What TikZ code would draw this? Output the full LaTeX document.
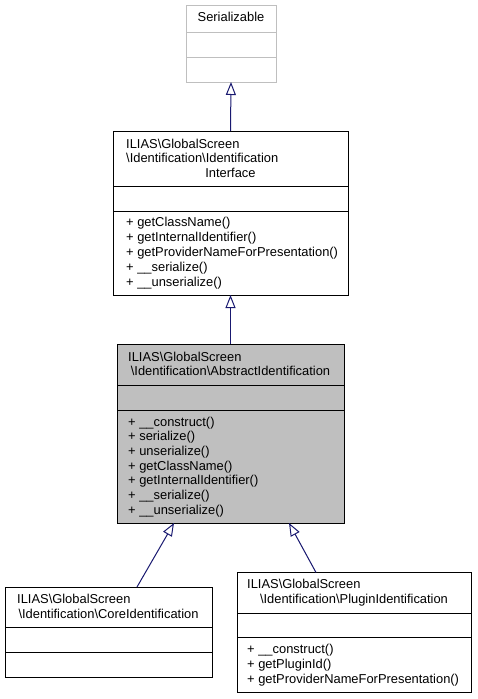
\documentclass[tikz,border=0pt]{standalone}
\usepackage{fontspec}
\setmainfont{Liberation Sans}
\usetikzlibrary{arrows.meta,calc}
\definecolor{edgeblue}{HTML}{191970}
\definecolor{boxgray}{HTML}{BFBFBF}
\begin{document}
\begin{tikzpicture}[x=1pt,y=-1pt,
  cls/.style={draw=black,line width=1pt,rectangle,inner sep=0pt,outer sep=0pt,anchor=north west},
  divider/.style={line width=1pt},
  lt/.style={anchor=base west,inner sep=0pt,font=\fontsize{12.9}{15}\selectfont},
  ct/.style={anchor=base,inner sep=0pt,font=\fontsize{12.9}{15}\selectfont},
  inherit/.style={draw=edgeblue,line width=1pt,-{Triangle[open,length=13pt,width=10pt]}}]
\useasboundingbox (0,0) rectangle (477,699);

% Serializable
\node[cls,draw=boxgray,minimum width=90pt,minimum height=77pt] (ser) at (186,5) {};
\draw[divider,boxgray] (186,32) -- (276,32);
\draw[divider,boxgray] (186,57) -- (276,57);
\node[ct] (sert) at (231,21) {Serializable};

% IdentificationInterface
\node[cls,minimum width=235pt,minimum height=164pt] (iface) at (113,131) {};
\draw[divider] (113,186) -- (348,186);
\draw[divider] (113,211) -- (348,211);
\node[lt] (it1) at (126,148) {ILIAS\textbackslash GlobalScreen};
\node[lt] (it2) at (126,162.5) {\textbackslash Identification\textbackslash Identification};
\node[ct] (it3) at (230.5,177) {Interface};
\node[lt] (im1) at (126,226) {+ getClassName()};
\node[lt] (im2) at (126,241) {+ getInternalIdentifier()};
\node[lt] (im3) at (126,256.5) {+ getProviderNameForPresentation()};
\node[lt] (im4) at (126,271.5) {+ \_\_serialize()};
\node[lt] (im5) at (126,286.5) {+ \_\_unserialize()};

% AbstractIdentification
\node[cls,fill=boxgray,minimum width=227pt,minimum height=179pt] (abs) at (117,344) {};
\draw[divider] (117,385) -- (344,385);
\draw[divider] (117,410) -- (344,410);
\node[lt] (at1) at (128,361) {ILIAS\textbackslash GlobalScreen};
\node[ct] (at2) at (230.5,375.5) {\textbackslash Identification\textbackslash AbstractIdentification};
\node[lt] (am1) at (128,426) {+ \_\_construct()};
\node[lt] (am2) at (128,440.6) {+ serialize()};
\node[lt] (am3) at (128,455.3) {+ unserialize()};
\node[lt] (am4) at (128,470) {+ getClassName()};
\node[lt] (am5) at (128,484.6) {+ getInternalIdentifier()};
\node[lt] (am6) at (128,499.3) {+ \_\_serialize()};
\node[lt] (am7) at (128,514) {+ \_\_unserialize()};

% CoreIdentification
\node[cls,minimum width=207pt,minimum height=90.5pt] (core) at (5,587) {};
\draw[divider] (5,627.3) -- (212,627.3);
\draw[divider] (5,652.3) -- (212,652.3);
\node[lt] (ct1) at (17,603) {ILIAS\textbackslash GlobalScreen};
\node[ct] (ct2) at (108.5,618) {\textbackslash Identification\textbackslash CoreIdentification};

% PluginIdentification
\node[cls,minimum width=234pt,minimum height=120pt] (plug) at (237,572.5) {};
\draw[divider] (237,613) -- (471,613);
\draw[divider] (237,637.3) -- (471,637.3);
\node[lt] (pt1) at (247,588.5) {ILIAS\textbackslash GlobalScreen};
\node[ct] (pt2) at (354,603.5) {\textbackslash Identification\textbackslash PluginIdentification};
\node[lt] (pm1) at (247,653) {+ \_\_construct()};
\node[lt] (pm2) at (247,668) {+ getPluginId()};
\node[lt] (pm3) at (247,683) {+ getProviderNameForPresentation()};

% Inheritance arrows
\draw[inherit] (iface.north) -- (ser.south);
\draw[inherit] (abs.north) -- (iface.south);
\draw[inherit] ($(core.north west)+(132,0)$) -- ($(abs.south west)+(57,0)$);
\draw[inherit] ($(plug.north west)+(79,0)$) -- ($(abs.south west)+(172,0)$);
\end{tikzpicture}
\end{document}
